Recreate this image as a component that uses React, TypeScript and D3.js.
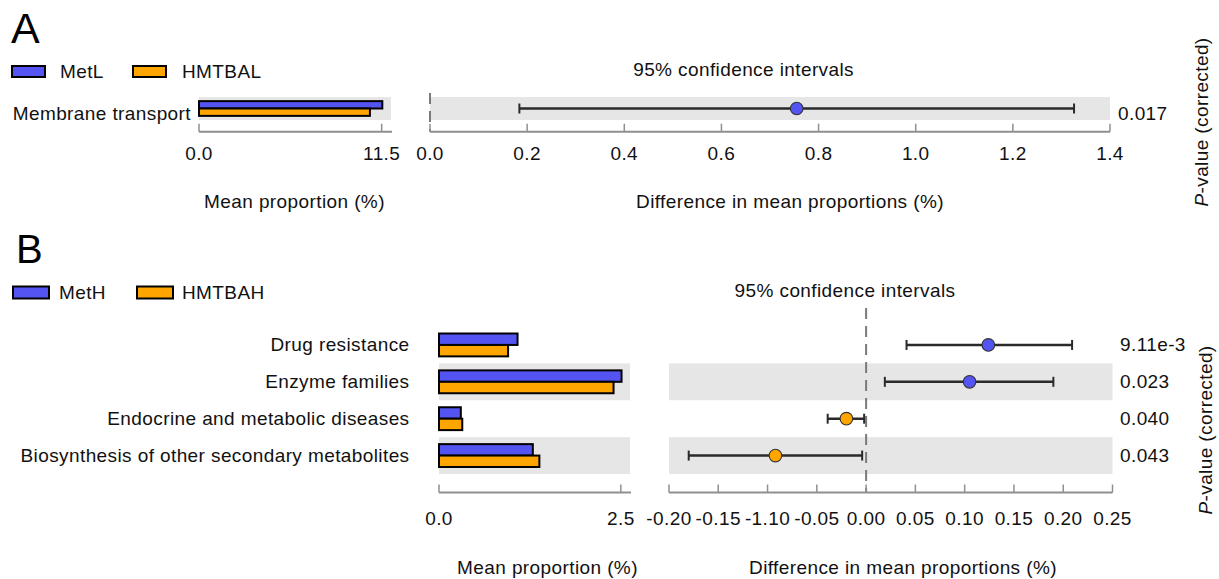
import React from "react";
import * as d3 from "d3";

// ---------- Panel A data ----------
const featuresA = ["Membrane transport"];
const group1NameA = "MetL";
const group2NameA = "HMTBAL";
const group1MeanA = [11.54];
const group2MeanA = [10.76];
const diffA = [0.755];
const ciLowA = [0.184];
const ciHighA = [1.326];
const pValuesA = ["0.017"];
const barTicksA = [0, 11.5];
const barTickLabelsA = ["0.0", "11.5"];
const ciTicksA = [0, 0.2, 0.4, 0.6, 0.8, 1.0, 1.2, 1.4];
const ciTickLabelsA = ["0.0", "0.2", "0.4", "0.6", "0.8", "1.0", "1.2", "1.4"];

// ---------- Panel B data ----------
const featuresB = [
  "Drug resistance",
  "Enzyme families",
  "Endocrine and metabolic diseases",
  "Biosynthesis of other secondary metabolites",
];
const group1NameB = "MetH";
const group2NameB = "HMTBAH";
const group1MeanB = [1.08, 2.51, 0.3, 1.29];
const group2MeanB = [0.95, 2.4, 0.32, 1.38];
const diffB = [0.124, 0.105, -0.02, -0.092];
const ciLowB = [0.041, 0.019, -0.039, -0.18];
const ciHighB = [0.209, 0.19, -0.002, -0.004];
const pValuesB = ["9.11e-3", "0.023", "0.040", "0.043"];
const barTicksB = [0, 2.5];
const barTickLabelsB = ["0.0", "2.5"];
const ciTicksB = [-0.2, -0.15, -0.1, -0.05, 0, 0.05, 0.1, 0.15, 0.2, 0.25];
const ciTickLabelsB = ["-0.20", "-0.15", "-1.10", "-0.05", "0.00", "0.05", "0.10", "0.15", "0.20", "0.25"];

const BLUE = "#5454F2";
const ORANGE = "#FFA500";
const SHADE = "#E6E6E6";
const AXIS = "#8f8f8f";
const FONT = "'Liberation Sans', Arial, Helvetica, sans-serif";
const FS = 19;
const LS = 0.4;

type PanelProps = {
  letter: string;
  letterX: number;
  letterY: number;
  letterSize: number;
  legend: { rectX: number[]; textX: number[]; y: number; w: number; h: number };
  names: string[];
  features: string[];
  g1: number[];
  g2: number[];
  diff: number[];
  lo: number[];
  hi: number[];
  pv: string[];
  barDomain: [number, number];
  barRange: [number, number];
  barTicks: number[];
  barTickLabels: string[];
  ciDomain: [number, number];
  ciRange: [number, number];
  ciTicks: number[];
  ciTickLabels: string[];
  rowsTop: number;
  rowsBottom: number;
  barFrac: number;
  axisY: number;
  tickLabelY: number;
  titleY: number;
  barTitleX: number;
  ciTitleX: number;
  ciHeaderX: number;
  ciHeaderY: number;
  textOffset: number;
  labelRight: number;
  pX: number;
  pTitleX: number;
  pTitleY: number;
  zeroTop: number;
};

function Panel(p: PanelProps) {
  const xb = d3.scaleLinear().domain(p.barDomain).range(p.barRange);
  const xc = d3.scaleLinear().domain(p.ciDomain).range(p.ciRange);
  const y = d3
    .scaleBand<number>()
    .domain(d3.range(p.features.length))
    .range([p.rowsTop, p.rowsBottom])
    .padding(0);
  const bw = y.bandwidth();
  const barH = (bw * p.barFrac) / 2;
  const n = p.features.length;
  const textStyle = { fontFamily: FONT, fontSize: FS, letterSpacing: LS, fill: "#111" } as const;
  const zeroX = xc(0);

  return (
    <g>
      <text x={p.letterX} y={p.letterY} style={{ fontFamily: FONT, fontSize: p.letterSize, fill: "#000" }}>
        {p.letter}
      </text>
      {/* legend */}
      {p.names.map((nm, i) => (
        <g key={nm}>
          <rect
            x={p.legend.rectX[i]}
            y={p.legend.y - p.legend.h / 2}
            width={p.legend.w}
            height={p.legend.h}
            fill={i === 0 ? BLUE : ORANGE}
            stroke="#000"
            strokeWidth={2}
          />
          <text x={p.legend.textX[i]} y={p.legend.y} dominantBaseline="central" style={textStyle}>
            {nm}
          </text>
        </g>
      ))}

      {/* shaded rows */}
      {p.features.map((f, i) =>
        (n - 1 - i) % 2 === 0 ? (
          <g key={"bg" + f}>
            <rect x={p.barRange[0]} y={y(i)} width={p.barRange[1] - p.barRange[0] - 1} height={bw} fill={SHADE} />
            <rect x={p.ciRange[0]} y={y(i)} width={p.ciRange[1] - p.ciRange[0]} height={bw} fill={SHADE} />
          </g>
        ) : null
      )}

      {/* feature labels */}
      {p.features.map((f, i) => (
        <text
          key={"lab" + f}
          x={p.labelRight}
          y={(y(i) as number) + bw / 2 + p.textOffset}
          textAnchor="end"
          dominantBaseline="central"
          style={textStyle}
        >
          {f}
        </text>
      ))}

      {/* bars */}
      {p.features.map((f, i) => {
        const c = (y(i) as number) + bw / 2;
        return (
          <g key={"bar" + f}>
            <rect
              x={xb(0)}
              y={c - barH}
              width={xb(p.g1[i]) - xb(0)}
              height={barH}
              fill={BLUE}
              stroke="#000"
              strokeWidth={2}
            />
            <rect
              x={xb(0)}
              y={c}
              width={xb(p.g2[i]) - xb(0)}
              height={barH}
              fill={ORANGE}
              stroke="#000"
              strokeWidth={2}
            />
          </g>
        );
      })}

      {/* bar axis */}
      <line x1={p.barRange[0]} x2={p.barRange[1]} y1={p.axisY} y2={p.axisY} stroke={AXIS} strokeWidth={2} />
      {p.barTicks.map((t, i) => (
        <g key={"bt" + i}>
          <line x1={xb(t)} x2={xb(t)} y1={p.axisY} y2={p.axisY - 8} stroke={AXIS} strokeWidth={1.5} />
          <text x={xb(t)} y={p.tickLabelY} textAnchor="middle" dominantBaseline="central" style={textStyle}>
            {p.barTickLabels[i]}
          </text>
        </g>
      ))}
      <text x={p.barTitleX} y={p.titleY} textAnchor="middle" dominantBaseline="central" style={textStyle}>
        Mean proportion (%)
      </text>

      {/* CI header */}
      <text x={p.ciHeaderX} y={p.ciHeaderY} textAnchor="middle" dominantBaseline="central" style={textStyle}>
        95% confidence intervals
      </text>

      {/* zero line */}
      <line
        x1={zeroX}
        x2={zeroX}
        y1={p.zeroTop}
        y2={p.axisY}
        stroke="#7a7a7a"
        strokeWidth={2}
        strokeDasharray="11,7"
      />

      {/* CI marks */}
      {p.features.map((f, i) => {
        const c = (y(i) as number) + bw / 2;
        return (
          <g key={"ci" + f}>
            <line x1={xc(p.lo[i])} x2={xc(p.hi[i])} y1={c} y2={c} stroke="#2a2a2a" strokeWidth={2.4} />
            <line x1={xc(p.lo[i])} x2={xc(p.lo[i])} y1={c - 5} y2={c + 5} stroke="#2a2a2a" strokeWidth={2} />
            <line x1={xc(p.hi[i])} x2={xc(p.hi[i])} y1={c - 5} y2={c + 5} stroke="#2a2a2a" strokeWidth={2} />
            <circle
              cx={xc(p.diff[i])}
              cy={c}
              r={6.3}
              fill={p.diff[i] >= 0 ? BLUE : ORANGE}
              stroke="#333"
              strokeWidth={1.1}
            />
            <text x={p.pX} y={c + p.textOffset} dominantBaseline="central" style={textStyle}>
              {p.pv[i]}
            </text>
          </g>
        );
      })}

      {/* CI axis */}
      <line x1={p.ciRange[0]} x2={p.ciRange[1]} y1={p.axisY} y2={p.axisY} stroke={AXIS} strokeWidth={2} />
      {p.ciTicks.map((t, i) => (
        <g key={"ct" + i}>
          <line x1={xc(t)} x2={xc(t)} y1={p.axisY} y2={p.axisY - 8} stroke={AXIS} strokeWidth={1.5} />
          <text x={xc(t)} y={p.tickLabelY} textAnchor="middle" dominantBaseline="central" style={textStyle}>
            {p.ciTickLabels[i]}
          </text>
        </g>
      ))}
      <text x={p.ciTitleX} y={p.titleY} textAnchor="middle" dominantBaseline="central" style={textStyle}>
        Difference in mean proportions (%)
      </text>

      {/* P-value title */}
      <text
        transform={`translate(${p.pTitleX},${p.pTitleY}) rotate(-90)`}
        textAnchor="middle"
        dominantBaseline="central"
        style={textStyle}
      >
        <tspan fontStyle="italic">P</tspan>-value (corrected)
      </text>
    </g>
  );
}

export default function App() {
  return (
    <svg
      width={1219}
      height={579}
      viewBox="0 0 1219 579"
      style={{ position: "absolute", left: 0, top: 0, background: "#fff" }}
    >
      <rect x={0} y={0} width={1219} height={579} fill="#fff" />
      <Panel
        letter="A"
        letterX={11}
        letterY={43}
        letterSize={43}
        legend={{ rectX: [12, 133], textX: [60, 182], y: 71.5, w: 33, h: 11 }}
        names={[group1NameA, group2NameA]}
        features={featuresA}
        g1={group1MeanA}
        g2={group2MeanA}
        diff={diffA}
        lo={ciLowA}
        hi={ciHighA}
        pv={pValuesA}
        barDomain={[0, 12.15]}
        barRange={[199, 392]}
        barTicks={barTicksA}
        barTickLabels={barTickLabelsA}
        ciDomain={[0, 1.4]}
        ciRange={[430, 1110]}
        ciTicks={ciTicksA}
        ciTickLabels={ciTickLabelsA}
        rowsTop={97}
        rowsBottom={120}
        barFrac={0.64}
        axisY={131.7}
        tickLabelY={153}
        titleY={201}
        barTitleX={294.5}
        ciTitleX={790}
        ciHeaderX={743.6}
        ciHeaderY={69}
        textOffset={5}
        labelRight={191}
        pX={1118}
        pTitleX={1201}
        pTitleY={122}
        zeroTop={93}
      />
      <Panel
        letter="B"
        letterX={16}
        letterY={263}
        letterSize={40}
        legend={{ rectX: [13, 137], textX: [59, 182], y: 292.5, w: 36, h: 12 }}
        names={[group1NameB, group2NameB]}
        features={featuresB}
        g1={group1MeanB}
        g2={group2MeanB}
        diff={diffB}
        lo={ciLowB}
        hi={ciHighB}
        pv={pValuesB}
        barDomain={[0, 2.64]}
        barRange={[439, 631]}
        barTicks={barTicksB}
        barTickLabels={barTickLabelsB}
        ciDomain={[-0.2, 0.25]}
        ciRange={[669, 1112.5]}
        ciTicks={ciTicksB}
        ciTickLabels={ciTickLabelsB}
        rowsTop={326.5}
        rowsBottom={474}
        barFrac={0.62}
        axisY={492.5}
        tickLabelY={518}
        titleY={567}
        barTitleX={547.5}
        ciTitleX={903}
        ciHeaderX={845}
        ciHeaderY={290}
        textOffset={0}
        labelRight={409.5}
        pX={1120}
        pTitleX={1205}
        pTitleY={430}
        zeroTop={308}
      />
    </svg>
  );
}
